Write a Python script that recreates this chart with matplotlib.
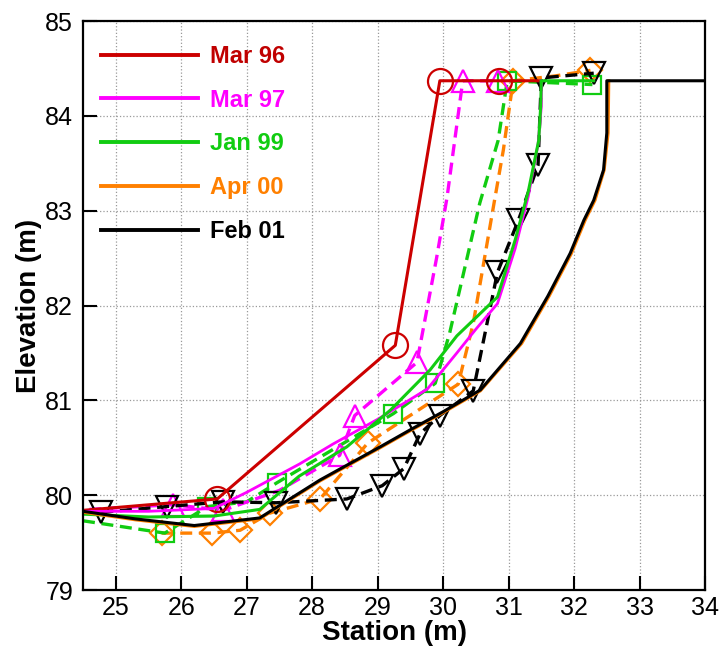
import numpy as np
import matplotlib
matplotlib.use('Agg')
import matplotlib.pyplot as plt
from matplotlib.lines import Line2D

plt.rcParams['font.family'] = ['Liberation Sans', 'DejaVu Sans']

# solid lines (one per survey)
mar96_x = [24.5, 26.55, 29.27, 29.95, 30.85, 31.45]
mar96_y = [79.84, 79.96, 81.58, 84.37, 84.37, 84.37]

mar97_x = [24.5, 25.5, 26.5, 27.0, 27.81, 28.32, 29.0, 29.76, 30.21, 30.5, 30.83, 31.1, 31.3, 31.45, 31.5, 31.5]
mar97_y = [79.83, 79.83, 79.86, 80.03, 80.33, 80.54, 80.8, 81.12, 81.5, 81.75, 82.02, 82.6, 83.15, 83.7, 84.1, 84.37]

jan99_x = [24.5, 25.5, 26.5, 27.2, 27.8, 28.53, 29.2, 29.8, 30.21, 30.83, 31.1, 31.3, 31.46, 31.49, 31.5, 32.3]
jan99_y = [79.8, 79.77, 79.78, 79.85, 80.2, 80.51, 80.9, 81.32, 81.68, 82.09, 82.69, 83.2, 83.74, 84.1, 84.37, 84.37]

apr00_x = [24.5, 25.3, 26.2, 27.2, 28.12, 29.04, 29.5, 30.0, 30.57, 31.2, 31.62, 31.96, 32.17, 32.32, 32.46, 32.52, 32.53]
apr00_y = [79.82, 79.74, 79.67, 79.75, 80.15, 80.5, 80.68, 80.87, 81.1, 81.6, 82.1, 82.55, 82.9, 83.11, 83.43, 83.82, 84.37]

feb01_x = [24.5, 25.3, 26.2, 27.2, 28.12, 29.04, 29.5, 30.0, 30.57, 31.18, 31.6, 31.94, 32.15, 32.3, 32.45, 32.5, 32.5, 34.0]
feb01_y = [79.83, 79.75, 79.68, 79.76, 80.16, 80.51, 80.69, 80.88, 81.11, 81.6, 82.1, 82.55, 82.9, 83.11, 83.43, 83.82, 84.37, 84.37]

# dashed lines with markers (surveyed points)
mar97_px = [24.6, 25.87, 26.64, 27.5, 28.42, 28.65, 29.6, 29.9, 30.06, 30.3, 30.84]
mar97_py = [79.85, 79.9, 79.84, 80.05, 80.42, 80.84, 81.4, 82.5, 83.14, 84.37, 84.37]
mar97_mk = [1, 2, 4, 5, 6, 9, 10]

jan99_px = [24.5, 25.75, 26.4, 27.0, 27.46, 29.24, 29.88, 30.1, 30.56, 30.84, 30.98, 32.28]
jan99_py = [79.73, 79.6, 79.88, 79.93, 80.13, 80.86, 81.18, 81.71, 83.08, 83.74, 84.37, 84.33]
jan99_mk = [1, 2, 4, 5, 6, 10, 11]

apr00_px = [25.7, 26.47, 26.9, 27.35, 28.12, 28.85, 30.23, 30.46, 30.75, 30.92, 31.07, 31.7, 32.25]
apr00_py = [79.6, 79.6, 79.63, 79.81, 79.96, 80.55, 81.17, 81.81, 82.97, 83.64, 84.37, 84.42, 84.48]
apr00_mk = [0, 1, 2, 3, 4, 5, 6, 10, 12]

feb01_px = [24.78, 25.78, 26.64, 27.45, 28.53, 29.07, 29.4, 29.65, 29.95, 30.46, 30.83, 31.15, 31.45, 31.5, 32.3]
feb01_py = [79.82, 79.88, 79.93, 79.92, 79.96, 80.1, 80.28, 80.65, 80.84, 81.1, 82.35, 82.9, 83.48, 84.4, 84.45]

labels = ['Mar 96', 'Mar 97', 'Jan 99', 'Apr 00', 'Feb 01']
colors = ['#CC0000', '#FF00FF', '#11CC11', '#FF8000', 'black']

fig = plt.figure(figsize=(7.24, 6.49), dpi=100)
ax = fig.add_axes([0.1146, 0.0909, 0.8592, 0.8767])

dash = dict(linestyle='--', dashes=(3.6, 2.0), linewidth=2.4, fillstyle='none',
            markeredgewidth=1.6)

ax.plot(apr00_px, apr00_py, color=colors[3], marker='D', markersize=12.5,
        markevery=apr00_mk, **dash)
ax.plot(jan99_px, jan99_py, color=colors[2], marker='s', markersize=13.5,
        markevery=jan99_mk, **dash)
ax.plot(mar97_px, mar97_py, color=colors[1], marker='^', markersize=16,
        markevery=mar97_mk, **dash)
ax.plot(feb01_px, feb01_py, color=colors[4], marker='v', markersize=16, **dash)

ax.plot(mar96_x, mar96_y, color=colors[0], lw=2.2, marker='o', markersize=18,
        fillstyle='none', markeredgewidth=1.6, markevery=[1, 2, 3, 4])
ax.plot(mar97_x, mar97_y, color=colors[1], lw=2.0)
ax.plot(jan99_x, jan99_y, color=colors[2], lw=2.2)
ax.plot(apr00_x, apr00_y, color=colors[3], lw=2.2)
ax.plot(feb01_x, feb01_y, color=colors[4], lw=2.2)

# legend: plain lines, coloured bold text
leg_h = [Line2D([], [], color=c, lw=2.8) for c in colors]
leg = ax.legend(leg_h, labels, loc='upper left', bbox_to_anchor=(0.029, 0.958),
                frameon=False, borderaxespad=0, borderpad=0, handlelength=4.1,
                handletextpad=0.5, labelspacing=0.88,
                prop={'weight': 'bold', 'size': 17}, labelcolor='linecolor')
leg.get_texts()[0].set_color('#C00000')

ax.set_xlim(24.5, 34)
ax.set_ylim(79, 85)
ax.set_xticks(np.arange(25, 35, 1))
ax.set_yticks(np.arange(79, 86, 1))
ax.grid(True, linestyle=':', color='#999999', linewidth=0.9)
ax.tick_params(direction='in', length=10, width=1.5, labelsize=18,
               top=False, right=False)
ax.tick_params(axis='x', pad=4)
ax.tick_params(axis='y', pad=7)
for s in ax.spines.values():
    s.set_linewidth(1.6)

ax.set_xlabel('Station (m)', fontsize=20, fontweight='bold', labelpad=0)
ax.set_ylabel('Elevation (m)', fontsize=20, fontweight='bold', labelpad=2)

fig.savefig('out.png', dpi=100)
